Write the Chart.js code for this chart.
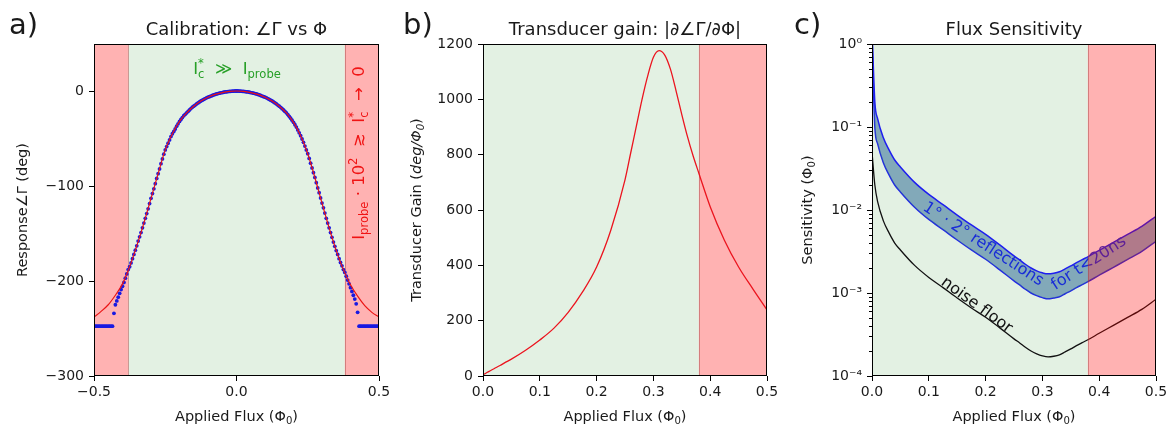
<!DOCTYPE html>
<html>
<head>
<meta charset="utf-8">
<script src="https://cdn.jsdelivr.net/npm/chart.js@4.4.1/dist/chart.umd.min.js"></script>
<style>
  body { margin: 0; background: #fff; }
  #wrap { position: relative; width: 1170px; height: 426px; }
  canvas { position: absolute; top: 0; }
</style>
</head>
<body>
<div id="wrap">
  <canvas id="calib" width="390" height="426" style="left:0px"></canvas>
  <canvas id="gain" width="385" height="426" style="left:395px"></canvas>
  <canvas id="sens" width="388" height="426" style="left:782px"></canvas>
</div>
<script>
// ---- panel a: calibration (fit + measured points)
const fluxFit = [-0.5, -0.475, -0.45, -0.425, -0.4, -0.375, -0.35, -0.325, -0.3, -0.275, -0.25, -0.225, -0.2, -0.175, -0.15, -0.125, -0.1, -0.075, -0.05, -0.025,
    0, 0.025, 0.05, 0.075, 0.1, 0.125, 0.15, 0.175, 0.2, 0.225, 0.25, 0.275, 0.3, 0.325, 0.35, 0.375, 0.4, 0.425, 0.45, 0.475, 0.5];
const respFit = [-238, -232, -225, -215, -203, -185, -163, -139, -113, -87, -62, -45, -32, -23, -16, -10.5, -6.5, -3.5, -1.6, -0.4,
    0, -0.4, -1.6, -3.5, -6.5, -10.5, -16, -23, -33, -47, -66, -91, -118, -144, -168, -188, -204, -216, -226, -233, -238];
// measured points, sampled every 0.005 from -0.5 to 0.5
const fluxData = Array.from({length: 201}, (_, i) => +(-0.5 + i * 0.005).toFixed(3));
const respData = [
    -247.5, -247.5, -247.5, -247.5, -247.5, -247.5, -247.5, -247.5, -247.5, -247.5, -247.5, -247.5, -247.5, -247.5,
    -234, -225, -221, -217, -213, -209, -205.5, -201.5, -197, -192.5, -188,
    -185, -181, -176.5, -172, -167.5, -163, -158, -153.5, -149, -144, -139, -134, -129, -124, -118.5, -113, -108, -103, -97.5, -92,
    -87, -82, -76.5, -71.5, -66.5, -62, -58.5, -55, -51.5, -48, -45, -42.5, -40, -37, -34.5, -32, -30, -28, -26, -24.5,
    -23, -21.5, -20, -18.5, -17, -16, -14.8, -13.6, -12.5, -11.5, -10.5, -9.6, -8.8, -8, -7.2, -6.5, -5.9, -5.3, -4.7, -4.1,
    -3.6, -3.1, -2.7, -2.3, -1.9, -1.6, -1.3, -1.0, -0.8, -0.6, -0.4, -0.3, -0.15, -0.1, 0, 0,
    0, -0.1, -0.15, -0.3, -0.4, -0.6, -0.8, -1.0, -1.3, -1.6, -1.9, -2.3, -2.7, -3.1, -3.6, -4.1, -4.7, -5.3, -5.9, -6.5,
    -7.2, -8, -8.8, -9.6, -10.5, -11.5, -12.5, -13.6, -14.8, -16, -17.2, -18.6, -20, -21.5, -23, -24.8, -26.6, -28.6, -30.7, -33,
    -35.5, -38, -41, -44, -47, -50.5, -54, -58, -62, -66, -71, -76, -81, -86, -91, -96.5, -102, -107, -112.5, -118,
    -123, -128.5, -134, -139, -144, -149, -154, -159, -163.5, -168, -172, -176.5, -180.5, -184, -188, -191, -195, -199, -203, -207,
    -211, -215, -219, -224, -233,
    -247.5, -247.5, -247.5, -247.5, -247.5, -247.5, -247.5, -247.5, -247.5, -247.5, -247.5, -247.5, -247.5, -247.5, -247.5];
const calibXTicks = [-0.5, 0, 0.5];
const calibYTicks = [-300, -200, -100, 0];

// ---- panels b and c share the flux grid
const flux = [0, 0.005, 0.01, 0.02, 0.03, 0.04, 0.05, 0.075, 0.1, 0.125, 0.15, 0.175, 0.2, 0.225, 0.25, 0.26, 0.27, 0.28, 0.29,
    0.3, 0.31, 0.32, 0.33, 0.34, 0.35, 0.36, 0.37, 0.38, 0.4, 0.425, 0.45, 0.475, 0.5];
const gain = [5, 10, 16, 27, 38, 50, 61, 93, 130, 173, 230, 303, 394, 527, 709, 806, 903, 1000, 1085,
    1152, 1176, 1160, 1109, 1030, 945, 865, 795, 733, 612, 491, 394, 315, 239];
const noiseFloor = [0.05, 0.02, 0.0125, 0.0074, 0.0053, 0.004, 0.0033, 0.00215, 0.00154, 0.00116, 0.00087, 0.00066, 0.00051, 0.00038, 0.00028, 0.00025, 0.000222, 0.0002, 0.000185,
    0.000175, 0.00017, 0.000173, 0.00018, 0.000195, 0.000212, 0.000232, 0.000252, 0.000273, 0.000327, 0.000407, 0.000508, 0.000635, 0.00084];
const reflHigh = [1.5, 0.2, 0.125, 0.074, 0.053, 0.04, 0.033, 0.0215, 0.0154, 0.0116, 0.0087, 0.0066, 0.0051, 0.0038, 0.0028, 0.0025, 0.00222, 0.002, 0.00185,
    0.00175, 0.0017, 0.00173, 0.0018, 0.00195, 0.00212, 0.00232, 0.00252, 0.00273, 0.00327, 0.00407, 0.00508, 0.00635, 0.0084];
const reflLow = [1.2, 0.1, 0.0625, 0.037, 0.0265, 0.02, 0.0165, 0.0108, 0.0077, 0.0058, 0.00435, 0.0033, 0.00255, 0.0019, 0.0014, 0.00125, 0.00111, 0.001, 0.00093,
    0.00088, 0.00085, 0.00087, 0.0009, 0.00098, 0.00106, 0.00116, 0.00126, 0.00137, 0.00164, 0.00204, 0.00254, 0.00318, 0.0042];
const halfXTicks = [0, 0.1, 0.2, 0.3, 0.4, 0.5];
const gainYTicks = [0, 200, 400, 600, 800, 1000, 1200];
const sensYTicks = [1e-4, 1e-3, 1e-2, 1e-1, 1];
const sensYLabels = ['10\u207B\u2074', '10\u207B\u00B3', '10\u207B\u00B2', '10\u207B\u00B9', '10\u2070'];
const safeLimit = 0.38; // edge of the green (valid) region

const FONT = '"DejaVu Sans", sans-serif';
const INK = '#1a1a1a';
const GREEN_BG = 'rgba(0,128,0,0.11)';
const RED_BG = 'rgba(255,0,0,0.3)';

const pts = (xs, ys) => xs.map((x, i) => ({x: x, y: ys[i]}));
const minus = (s) => s.replace('-', '\u2212');

// text with sub/superscripts; (x, y) is the visual centre of the line
function rich(ctx, runs, x, y, size, color, angle, align) {
    ctx.save();
    ctx.translate(x, y);
    ctx.rotate(angle || 0);
    ctx.fillStyle = color;
    ctx.textBaseline = 'alphabetic';
    ctx.textAlign = 'left';
    const setFont = (r) => {
        const small = r[1] === 'sub' || r[1] === 'sup' || r[1] === 'sup0';
        ctx.font = (r[2] ? 'italic ' : '') + (small ? size * 0.7 : size) + 'px ' + FONT;
    };
    let total = 0;
    const widths = runs.map(r => {
        setFont(r);
        const w = ctx.measureText(r[0]).width;
        if (r[1] !== 'sup0') total += w;
        return w;
    });
    let cx = align === 'left' ? 0 : -total / 2;
    runs.forEach((r, i) => {
        setFont(r);
        let dy = 0;
        if (r[1] === 'sub') dy = size * 0.22;
        if (r[1] === 'sup' || r[1] === 'sup0') dy = -size * 0.4;
        ctx.fillText(r[0], cx, dy + size * 0.36);
        if (r[1] !== 'sup0') cx += widths[i];
    });
    ctx.restore();
}

function span(chart, x0, x1, color) {
    const {ctx, chartArea: a, scales: {x}} = chart;
    const p0 = x.getPixelForValue(x0), p1 = x.getPixelForValue(x1);
    ctx.save();
    ctx.fillStyle = color;
    ctx.fillRect(p0, a.top, p1 - p0, a.bottom - a.top);
    ctx.restore();
}
function edge(chart, xv) {
    const {ctx, chartArea: a, scales: {x}} = chart;
    const p = Math.round(x.getPixelForValue(xv)) + 0.5;
    ctx.save();
    ctx.strokeStyle = 'rgba(160,60,60,0.45)';
    ctx.lineWidth = 1;
    ctx.beginPath(); ctx.moveTo(p, a.top); ctx.lineTo(p, a.bottom); ctx.stroke();
    ctx.restore();
}
function frame(chart) {
    const {ctx, chartArea: a} = chart;
    const l = Math.round(a.left) + 0.5, t = Math.round(a.top) + 0.5;
    const r = Math.round(a.right) - 0.5, b = Math.round(a.bottom) - 0.5;
    ctx.save();
    ctx.strokeStyle = '#000';
    ctx.lineWidth = 1;
    ctx.strokeRect(l, t, r - l, b - t);
    ctx.restore();
}
function labels(chart, p) {
    const {ctx, chartArea: a} = chart;
    const cx = (a.left + a.right) / 2, cy = (a.top + a.bottom) / 2;
    rich(ctx, p.title, cx, 28.5, 18, INK, 0);
    rich(ctx, [[p.letter]], p.letterX, 24, 29, INK, 0, 'left');
    rich(ctx, [['Applied Flux (\u03A6'], ['0', 'sub'], [')']], cx, 416, 14.5, INK, 0);
    rich(ctx, p.ylabel, p.ylabelX, cy, 14.5, INK, -Math.PI / 2);
}

function xAxis(min, max, ticks) {
    return {
        type: 'linear', min: min, max: max,
        afterBuildTicks: s => { s.ticks = ticks.map(v => ({value: v})); },
        afterFit: s => { s.height = 50; s.paddingLeft = 0; s.paddingRight = 0; },
        grid: {drawOnChartArea: false, tickLength: 5, tickColor: '#000'},
        border: {display: false},
        ticks: {font: {family: 'DejaVu Sans', size: 14}, color: INK, padding: 3, maxRotation: 0, autoSkip: false,
            callback: v => minus(v.toFixed(1))}
    };
}
function yAxis(type, min, max, ticks, width, fmt) {
    return {
        type: type, min: min, max: max,
        afterBuildTicks: s => { s.ticks = ticks.map(v => ({value: v})); },
        afterFit: s => { s.width = width; s.paddingTop = 0; s.paddingBottom = 0; },
        grid: {drawOnChartArea: false, tickLength: 5, tickColor: '#000'},
        border: {display: false},
        ticks: {font: {family: 'DejaVu Sans', size: 14}, color: INK, padding: 5, autoSkip: false, callback: fmt}
    };
}
const base = (right, scales) => ({
    responsive: false,
    animation: false,
    devicePixelRatio: 1,
    layout: {padding: {top: 44, left: 0, right: right, bottom: 0}},
    plugins: {legend: {display: false}, tooltip: {enabled: false}},
    elements: {point: {radius: 0}},
    scales: scales
});

// ---- a)
new Chart(document.getElementById('calib'), {
    type: 'line',
    data: {
        datasets: [{
            data: pts(fluxFit, respFit),
            borderColor: 'rgb(235,20,20)', borderWidth: 1.2,
            cubicInterpolationMode: 'monotone'
        }, {
            data: pts(fluxData, respData),
            showLine: false,
            pointRadius: 1.9, pointBorderWidth: 0,
            pointBackgroundColor: 'rgb(25,25,225)'
        }]
    },
    options: base(11, {
        x: xAxis(-0.5, 0.5, calibXTicks),
        y: yAxis('linear', -300, 49.5, calibYTicks, 94, v => minus(String(v)))
    }),
    plugins: [{
        id: 'calibDecor',
        beforeDatasetsDraw(chart) {
            span(chart, -0.5, -safeLimit, RED_BG);
            span(chart, -safeLimit, safeLimit, GREEN_BG);
            span(chart, safeLimit, 0.5, RED_BG);
            edge(chart, -safeLimit);
            edge(chart, safeLimit);
        },
        afterDraw(chart) {
            const ctx = chart.ctx;
            frame(chart);
            labels(chart, {
                title: [['Calibration: \u2220\u0393 vs \u03A6']], letter: 'a)', letterX: 9,
                ylabel: [['Response\u2220\u0393 (deg)']], ylabelX: 22
            });
            rich(ctx, [['I'], ['*', 'sup0'], ['c', 'sub'], ['  \u226B  '], ['I'], ['probe', 'sub']], 237, 68, 16.5, 'rgb(40,160,40)', 0);
            rich(ctx, [['I'], ['probe', 'sub'], [' \u00B7 10'], ['2', 'sup'], ['  \u2273  I'], ['*', 'sup0'], ['c', 'sub'], ['  \u2192  0']],
                358, 153, 16.5, 'rgb(240,20,20)', -Math.PI / 2);
        }
    }]
});

// ---- b)
new Chart(document.getElementById('gain'), {
    type: 'line',
    data: {
        datasets: [{
            data: pts(flux, gain),
            borderColor: 'rgb(235,20,30)', borderWidth: 1.3,
            cubicInterpolationMode: 'monotone'
        }]
    },
    options: base(13, {
        x: xAxis(0, 0.5, halfXTicks),
        y: yAxis('linear', 0, 1200, gainYTicks, 88, v => String(v))
    }),
    plugins: [{
        id: 'gainDecor',
        beforeDatasetsDraw(chart) {
            span(chart, 0, safeLimit, GREEN_BG);
            span(chart, safeLimit, 0.5, RED_BG);
            edge(chart, safeLimit);
        },
        afterDraw(chart) {
            frame(chart);
            labels(chart, {
                title: [['Transducer gain: |\u2202\u2220\u0393/\u2202\u03A6|']], letter: 'b)', letterX: 8,
                ylabel: [['Transducer Gain ('], ['deg/\u03A6', '', true], ['0', 'sub', true], [')']], ylabelX: 21
            });
        }
    }]
});

// ---- c)
new Chart(document.getElementById('sens'), {
    type: 'line',
    data: {
        datasets: [{
            data: pts(flux, noiseFloor),
            borderColor: '#111', borderWidth: 1.3,
            cubicInterpolationMode: 'monotone'
        }, {
            data: pts(flux, reflHigh),
            borderColor: 'rgb(30,30,240)', borderWidth: 1.5,
            cubicInterpolationMode: 'monotone',
            fill: '+1', backgroundColor: 'rgba(50,110,150,0.55)'
        }, {
            data: pts(flux, reflLow),
            borderColor: 'rgb(30,30,240)', borderWidth: 1.5,
            cubicInterpolationMode: 'monotone'
        }]
    },
    options: base(14, {
        x: xAxis(0, 0.5, halfXTicks),
        y: yAxis('logarithmic', 1e-4, 1, sensYTicks, 90, (v, i) => sensYLabels[i])
    }),
    plugins: [{
        id: 'sensDecor',
        beforeDatasetsDraw(chart) {
            span(chart, 0, safeLimit, GREEN_BG);
        },
        afterDatasetsDraw(chart) {
            const ctx = chart.ctx;
            rich(ctx, [['1\u00B0 \u00B7 2\u00B0 reflections']], 202, 243, 16, 'rgb(25,45,215)', 33 * Math.PI / 180);
            rich(ctx, [['for t<20ns']], 306, 262, 16, 'rgb(25,45,215)', -33 * Math.PI / 180);
            rich(ctx, [['noise floor']], 195.5, 304, 16, '#111', 36 * Math.PI / 180);
            span(chart, safeLimit, 0.5, RED_BG);
            edge(chart, safeLimit);
        },
        afterDraw(chart) {
            const {ctx, chartArea: a, scales: {y}} = chart;
            // minor log ticks
            ctx.save();
            ctx.strokeStyle = '#000';
            ctx.lineWidth = 1;
            ctx.beginPath();
            for (let d = 1e-4; d < 1; d *= 10) {
                for (let m = 2; m <= 9; m++) {
                    const py = Math.round(y.getPixelForValue(m * d)) + 0.5;
                    ctx.moveTo(a.left - 3, py);
                    ctx.lineTo(a.left, py);
                }
            }
            ctx.stroke();
            ctx.restore();
            frame(chart);
            labels(chart, {
                title: [['Flux Sensitivity']], letter: 'c)', letterX: 12,
                ylabel: [['Sensitivity (\u03A6'], ['0', 'sub'], [')']], ylabelX: 25
            });
        }
    }]
});
</script>
</body>
</html>
